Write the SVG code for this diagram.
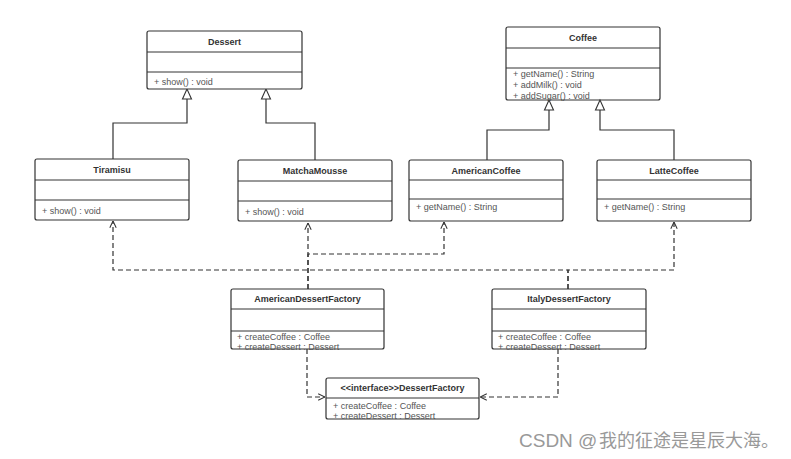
<svg xmlns="http://www.w3.org/2000/svg" width="791" height="459" viewBox="0 0 791 459">
<style>
.box{fill:#fff;stroke:#333;stroke-width:1.2}
.div{stroke:#333;stroke-width:1}
.t{font-family:"Liberation Sans","DejaVu Sans",sans-serif;font-size:9px;font-weight:bold;fill:#333;text-anchor:middle}
.m{font-family:"Liberation Sans","DejaVu Sans",sans-serif;font-size:9px;fill:#555}
.inh{fill:none;stroke:#333;stroke-width:1.2}
.tri{fill:#fff;stroke:#333;stroke-width:1.1}
.dep{fill:none;stroke:#333;stroke-width:1.2;stroke-dasharray:5,3;marker-end:url(#open)}
.wm{font-family:"Liberation Sans","Noto Sans CJK SC",sans-serif;font-size:18px;fill:#999}
</style>
<defs>
<marker id="open" viewBox="0 0 10 10" refX="9.5" refY="5" markerWidth="8" markerHeight="8" markerUnits="userSpaceOnUse" orient="auto">
<path d="M1,1 L9.5,5 L1,9" fill="none" stroke="#333" stroke-width="1.3"/>
</marker>
</defs>

<g id="connectors">
<path class="inh" d="M113 159 V123 H187 V99"/>
<path class="inh" d="M315 160 V123 H266 V99"/>
<path class="inh" d="M487 160 V130 H549 V110"/>
<path class="inh" d="M674 160 V130 H600 V110"/>
<polygon class="tri" points="187,89 182.5,99 191.5,99"/>
<polygon class="tri" points="266,89 261.5,99 270.5,99"/>
<polygon class="tri" points="549,100 544.5,110 553.5,110"/>
<polygon class="tri" points="600,100 595.5,110 604.5,110"/>
<path class="dep" d="M308 289 V223"/>
<path class="dep" d="M308 289 V254 H444 V222"/>
<path class="dep" d="M568 289 V270 H113 V221"/>
<path class="dep" d="M568 289 V270 H674 V222"/>
<path class="dep" d="M307 349 V397 H325"/>
<path class="dep" d="M558 349 V397 H480"/>
</g>

<g id="Dessert">
<rect class="box" x="147" y="31" width="155" height="58" rx="2"/>
<line class="div" x1="147" y1="52" x2="302" y2="52"/>
<line class="div" x1="147" y1="72" x2="302" y2="72"/>
<text class="t" x="224.5" y="45">Dessert</text>
<text class="m" x="154" y="85">+ show() : void</text>
</g>

<g id="Coffee">
<text class="m" x="513" y="99">+ addSugar() : void</text>
<rect class="box" x="506" y="27" width="154" height="73" rx="2" style="fill:none"/>
<line class="div" x1="506" y1="48" x2="660" y2="48"/>
<line class="div" x1="506" y1="68" x2="660" y2="68"/>
<text class="t" x="583" y="41">Coffee</text>
<text class="m" x="513" y="77">+ getName() : String</text>
<text class="m" x="513" y="88">+ addMilk() : void</text>
</g>

<g id="Tiramisu">
<rect class="box" x="35" y="159" width="154" height="61" rx="2"/>
<line class="div" x1="35" y1="180" x2="189" y2="180"/>
<line class="div" x1="35" y1="200" x2="189" y2="200"/>
<text class="t" x="112" y="173">Tiramisu</text>
<text class="m" x="42" y="214">+ show() : void</text>
</g>

<g id="MatchaMousse">
<rect class="box" x="238" y="160" width="154" height="61" rx="2"/>
<line class="div" x1="238" y1="181" x2="392" y2="181"/>
<line class="div" x1="238" y1="201" x2="392" y2="201"/>
<text class="t" x="315" y="174">MatchaMousse</text>
<text class="m" x="245" y="215">+ show() : void</text>
</g>

<g id="AmericanCoffee">
<rect class="box" x="409" y="160" width="154" height="61" rx="2"/>
<line class="div" x1="409" y1="180" x2="563" y2="180"/>
<line class="div" x1="409" y1="199" x2="563" y2="199"/>
<text class="t" x="486" y="174">AmericanCoffee</text>
<text class="m" x="416" y="210">+ getName() : String</text>
</g>

<g id="LatteCoffee">
<rect class="box" x="597" y="160" width="154" height="61" rx="2"/>
<line class="div" x1="597" y1="180" x2="751" y2="180"/>
<line class="div" x1="597" y1="199" x2="751" y2="199"/>
<text class="t" x="674" y="174">LatteCoffee</text>
<text class="m" x="604" y="210">+ getName() : String</text>
</g>

<g id="AmericanDessertFactory">
<rect class="box" x="231" y="289" width="153" height="60" rx="2"/>
<line class="div" x1="231" y1="309" x2="384" y2="309"/>
<line class="div" x1="231" y1="331" x2="384" y2="331"/>
<text class="t" x="307.5" y="302">AmericanDessertFactory</text>
<text class="m" x="237" y="340">+ createCoffee : Coffee</text>
<text class="m" x="237" y="350">+ createDessert : Dessert</text>
</g>

<g id="ItalyDessertFactory">
<rect class="box" x="492" y="289" width="154" height="60" rx="2"/>
<line class="div" x1="492" y1="309" x2="646" y2="309"/>
<line class="div" x1="492" y1="331" x2="646" y2="331"/>
<text class="t" x="569" y="302">ItalyDessertFactory</text>
<text class="m" x="498" y="340">+ createCoffee : Coffee</text>
<text class="m" x="498" y="350">+ createDessert : Dessert</text>
</g>

<g id="DessertFactory">
<rect class="box" x="326" y="378" width="153" height="41" rx="2"/>
<line class="div" x1="326" y1="398" x2="479" y2="398"/>
<text class="t" x="402.5" y="391">&lt;&lt;interface&gt;&gt;DessertFactory</text>
<text class="m" x="333" y="409">+ createCoffee : Coffee</text>
<text class="m" x="333" y="419">+ createDessert : Dessert</text>
</g>

<text class="wm" x="519" y="447"><tspan font-size="19">CSDN @</tspan><tspan x="599">我的征途是星辰大海。</tspan></text>
</svg>
